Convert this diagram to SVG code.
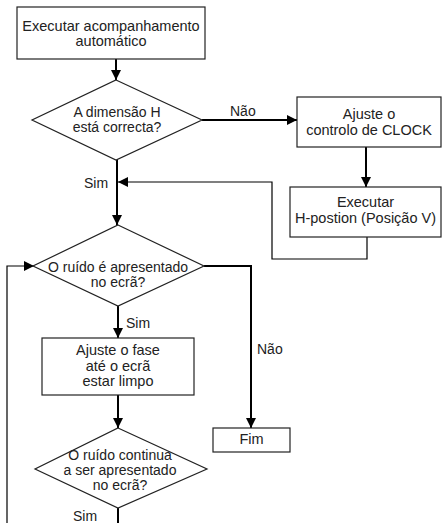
<svg xmlns="http://www.w3.org/2000/svg" width="444" height="523" viewBox="0 0 444 523">
<style>
.n{fill:#fff;stroke:#222;stroke-width:1.2}
.t{font-family:"Liberation Sans",Arial,sans-serif;font-size:14.5px;fill:#222;text-anchor:middle}
.d{font-family:"Liberation Sans",Arial,sans-serif;font-size:14px;fill:#222;text-anchor:middle}
.l{font-family:"Liberation Sans",Arial,sans-serif;font-size:14px;fill:#222}
.c{fill:none;stroke:#000;stroke-width:2}
.c1{fill:none;stroke:#000;stroke-width:1.2}
</style>
<defs>
<marker id="a" markerUnits="userSpaceOnUse" markerWidth="10" markerHeight="10" refX="10" refY="5" orient="auto"><path d="M0,0 L10,5 L0,10 Z" fill="#000"/></marker>
</defs>
<rect width="444" height="523" fill="#fff"/>
<g id="connectors">
<path class="c" d="M116,59 V80" marker-end="url(#a)"/>
<path class="c" d="M202,120 H297" marker-end="url(#a)"/>
<path class="c" d="M366,147 V187" marker-end="url(#a)"/>
<path class="c1" d="M367,237 V259 H272 V182 H118" marker-end="url(#a)"/>
<path class="c" d="M117,160 V225" marker-end="url(#a)"/>
<path class="c" d="M204,266 H251 V428" marker-end="url(#a)"/>
<path class="c" d="M118,306 V338" marker-end="url(#a)"/>
<path class="c" d="M118,395 V428" marker-end="url(#a)"/>
<path class="c" d="M118,508 V523"/>
<path class="c1" d="M7,523 V266 H34" marker-end="url(#a)"/>
<text class="l" x="230" y="116">Não</text>
<text class="l" x="84" y="188">Sim</text>
<text class="l" x="126" y="328">Sim</text>
<text class="l" x="257" y="354">Não</text>
<text class="l" x="73" y="521">Sim</text>
</g>
<g id="start">
<rect class="n" x="17" y="7" width="188" height="52"/>
<text class="t" x="111" y="31">Executar acompanhamento</text>
<text class="t" x="111" y="46">automático</text>
</g>
<g id="dec1">
<polygon class="n" points="116,80 202,120 116,160 32,120"/>
<text class="d" x="117" y="117">A dimensão H</text>
<text class="d" x="117" y="132">está correcta?</text>
</g>
<g id="clock">
<rect class="n" x="297" y="97" width="144" height="50"/>
<text class="t" x="369" y="119">Ajuste o</text>
<text class="t" x="369" y="135">controlo de CLOCK</text>
</g>
<g id="hpos">
<rect class="n" x="290" y="187" width="151" height="50"/>
<text class="t" x="365.5" y="207">Executar</text>
<text class="t" x="365.5" y="223">H-postion (Posição V)</text>
</g>
<g id="dec2">
<polygon class="n" points="118,225 204,266 118,306 33,266"/>
<text class="d" x="118" y="272">O ruído é apresentado</text>
<text class="d" x="118" y="287">no ecrã?</text>
</g>
<g id="phase">
<rect class="n" x="42" y="338" width="152" height="57"/>
<text class="t" x="118" y="355">Ajuste o fase</text>
<text class="t" x="118" y="371">até o ecrã</text>
<text class="t" x="118" y="386">estar limpo</text>
</g>
<g id="end">
<rect class="n" x="213" y="428" width="77" height="24"/>
<text class="t" x="251.5" y="444">Fim</text>
</g>
<g id="dec3">
<polygon class="n" points="118,428 207,469 118,508 35,469"/>
<text class="d" x="120" y="460">O ruído continua</text>
<text class="d" x="120" y="475">a ser apresentado</text>
<text class="d" x="120" y="490">no ecrã?</text>
</g>
</svg>
